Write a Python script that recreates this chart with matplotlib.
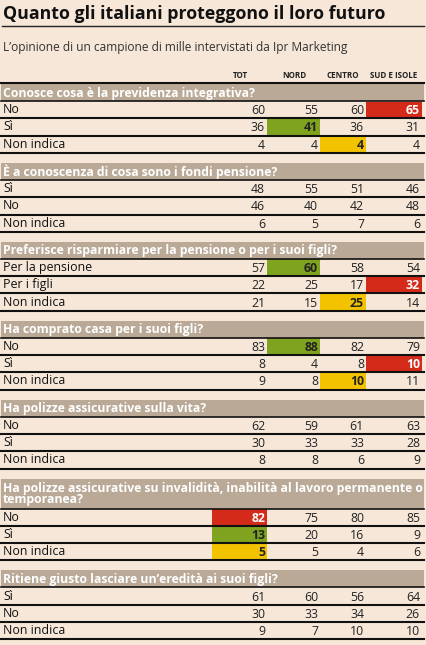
import matplotlib
matplotlib.use("Agg")
import matplotlib.pyplot as plt
from matplotlib.patches import Rectangle

plt.rcParams['font.family'] = ['Open Sans', 'DejaVu Sans']

title = "Quanto gli italiani proteggono il loro futuro"
subtitle = "L’opinione di un campione di mille intervistati da Ipr Marketing"
columns = ["TOT", "NORD", "CENTRO", "SUD E ISOLE"]
questions = [
    "Conosce cosa è la previdenza integrativa?",
    "È a conoscenza di cosa sono i fondi pensione?",
    "Preferisce risparmiare per la pensione o per i suoi figli?",
    "Ha comprato casa per i suoi figli?",
    "Ha polizze assicurative sulla vita?",
    "Ha polizze assicurative su invalidità, inabilità al lavoro permanente o\ntemporanea?",
    "Ritiene giusto lasciare un’eredità ai suoi figli?",
]
row_labels = [
    ["No", "Sì", "Non indica"],
    ["Sì", "No", "Non indica"],
    ["Per la pensione", "Per i figli", "Non indica"],
    ["No", "Sì", "Non indica"],
    ["No", "Sì", "Non indica"],
    ["No", "Sì", "Non indica"],
    ["Sì", "No", "Non indica"],
]
values = [
    [[60, 55, 60, 65], [36, 41, 36, 31], [4, 4, 4, 4]],
    [[48, 55, 51, 46], [46, 40, 42, 48], [6, 5, 7, 6]],
    [[57, 60, 58, 54], [22, 25, 17, 32], [21, 15, 25, 14]],
    [[83, 88, 82, 79], [8, 4, 8, 10], [9, 8, 10, 11]],
    [[62, 59, 61, 63], [30, 33, 33, 28], [8, 8, 6, 9]],
    [[82, 75, 80, 85], [13, 20, 16, 9], [5, 5, 4, 6]],
    [[61, 60, 56, 64], [30, 33, 34, 26], [9, 7, 10, 10]],
]
highlights = [
    (0, 0, 3, "r"), (0, 1, 1, "g"), (0, 2, 2, "y"),
    (2, 0, 1, "g"), (2, 1, 3, "r"), (2, 2, 2, "y"),
    (3, 0, 1, "g"), (3, 1, 3, "r"), (3, 2, 2, "y"),
    (5, 0, 0, "r"), (5, 1, 0, "g"), (5, 2, 0, "y"),
]

BG = "#f6e7d8"
BAND = "#b9a996"
COL = {"r": "#d42a1a", "g": "#7fa31f", "y": "#f3c300"}

W, H = 426, 645
fig = plt.figure(figsize=(W / 100, H / 100), dpi=100, facecolor=BG)
ax = fig.add_axes([0, 0, 1, 1])
ax.set_xlim(0, W)
ax.set_ylim(H, 0)
ax.axis("off")

ax.text(3, 14, title, fontsize=12.8, fontweight="bold", va="center", ha="left", color="#111")
ax.plot([2, 424], [26, 26], color="#222", lw=1)
ax.text(3, 48, subtitle, fontsize=8.6, va="center", ha="left", color="#333")

col_edges = [212, 267, 320, 366, 422]
col_centers_hdr = [240, 294, 343, 394]
for c, name in enumerate(columns):
    ax.text(col_centers_hdr[c], 76, name, fontsize=5.8, fontweight="bold", ha="center", va="center", color="#222")
ax.plot([1, 424], [83, 83], color="#111", lw=1.5)

hl = {(s, r, c): k for s, r, c, k in highlights}
y = 84
rowh = 17.3
for s, q in enumerate(questions):
    bh = 30 if "\n" in q else 17
    ax.add_patch(Rectangle((1, y), 423, bh, color=BAND, lw=0))
    ax.text(3, y + bh / 2 + 0.5, q, fontsize=8.8, fontweight="bold", color="white",
            va="center", ha="left", linespacing=0.85)
    y += bh
    ax.plot([1, 424], [y, y], color="#111", lw=1.2)
    for r, lab in enumerate(row_labels[s]):
        for c in range(4):
            k = hl.get((s, r, c))
            if k:
                ax.add_patch(Rectangle((col_edges[c], y + 0.5), col_edges[c + 1] - col_edges[c],
                                       rowh - 1, color=COL[k], lw=0))
        ax.text(3, y + rowh / 2, lab, fontsize=8.9, va="center", ha="left", color="#111")
        for c in range(4):
            k = hl.get((s, r, c))
            ax.text(col_edges[c + 1] - 2, y + rowh / 2 + 1, str(values[s][r][c]), fontsize=8.8,
                    va="center", ha="right",
                    fontweight="bold" if k else "normal",
                    color="white" if k == "r" else "#222")
        y += rowh
        ax.plot([1, 424], [y, y], color="#111", lw=1.5)
    y += 10

fig.savefig("out.png", dpi=100, facecolor=BG)
